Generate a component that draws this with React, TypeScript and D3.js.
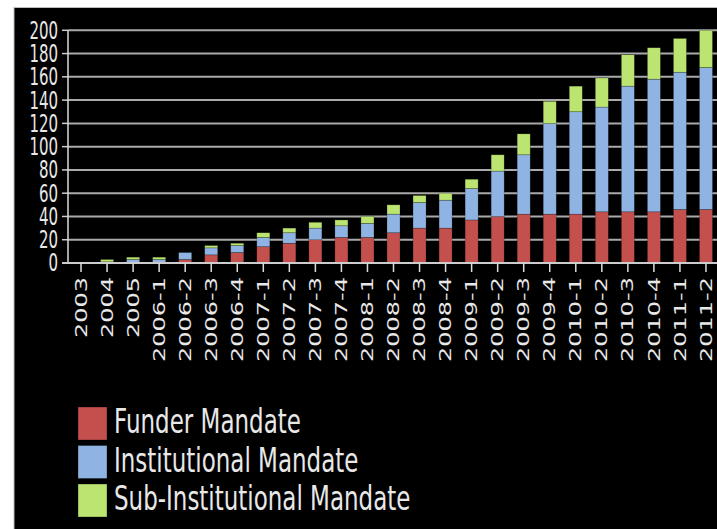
import * as d3 from 'd3';

const categories = [
  '2003', '2004', '2005', '2006-1', '2006-2', '2006-3', '2006-4',
  '2007-1', '2007-2', '2007-3', '2007-4', '2008-1', '2008-2', '2008-3', '2008-4',
  '2009-1', '2009-2', '2009-3', '2009-4', '2010-1', '2010-2', '2010-3', '2010-4',
  '2011-1', '2011-2',
];
const funder = [0, 0, 0, 0, 3, 7, 9, 14, 17, 20, 22, 22, 26, 30, 30, 37, 40, 42, 42, 42, 44, 44, 44, 46, 46];
const institutional = [0, 1, 3, 3, 6, 6, 6, 8, 9, 10, 10, 12, 16, 22, 24, 27, 39, 51, 78, 88, 90, 108, 114, 118, 122];
const subInstitutional = [0, 2, 2, 2, 0, 2, 2, 4, 4, 5, 5, 6, 8, 6, 6, 8, 14, 18, 19, 22, 25, 27, 27, 29, 32];
const yTicks = [0, 20, 40, 60, 80, 100, 120, 140, 160, 180, 200];

const seriesNames = ['Funder Mandate', 'Institutional Mandate', 'Sub-Institutional Mandate'];
const colors = ['#c4504e', '#8fb4e3', '#bce470'];

const W = 717;
const H = 529;
const FONT = 'DejaVu Sans, sans-serif';
const TEXT = '#e8e8e8';

export default function App() {
  const rows = categories.map((c, i) => ({
    cat: c,
    f: funder[i],
    inst: institutional[i],
    sub: subInstitutional[i],
  }));
  const stacked = d3.stack<(typeof rows)[number]>().keys(['f', 'inst', 'sub'])(rows as any);

  const x = d3.scaleBand().domain(categories).range([68, 719]).paddingInner(0.5).paddingOuter(0.25);
  const y = d3.scaleLinear().domain([0, 200]).range([263, 30.3]);

  return (
    <svg width={W} height={H} style={{ position: 'absolute', left: 0, top: 0 }}>
      <rect x={0} y={0} width={W} height={H} fill="#fff" />
      <rect x={14} y={7.5} width={W} height={H} fill="#000" stroke="#bbb" strokeWidth={1} />

      {/* gridlines */}
      {yTicks.map(t => (
        <g key={t}>
          {t > 0 && <line x1={68} x2={W} y1={y(t)} y2={y(t)} stroke="#aaa" strokeWidth={2} />}
          <line x1={62} x2={68} y1={y(t)} y2={y(t)} stroke="#ccc" strokeWidth={1.5} />
          <g transform={`translate(58,${y(t)}) scale(1,1.6)`}>
            <text textAnchor="end" dy="0.35em" fontSize={15} fontFamily={FONT} fill={TEXT}>{t}</text>
          </g>
        </g>
      ))}

      {/* bars */}
      {stacked.map((s, si) => (
        <g key={si} fill={colors[si]}>
          {s.map((d, i) => {
            const h = y(d[0]) - y(d[1]);
            if (h <= 0) return null;
            return (
              <rect key={i} x={x(categories[i])} width={x.bandwidth()} y={y(d[1])} height={h}
                stroke="rgba(0,0,0,0.35)" strokeWidth={0.6} />
            );
          })}
        </g>
      ))}

      {/* axes */}
      <line x1={68} x2={68} y1={y(200)} y2={y(0)} stroke="#ddd" strokeWidth={1.5} />
      <line x1={62} x2={W} y1={y(0)} y2={y(0)} stroke="#ccc" strokeWidth={2} />
      {categories.map(c => {
        const cx = (x(c) ?? 0) + x.bandwidth() / 2;
        return (
          <g key={c}>
            <line x1={cx} x2={cx} y1={y(0)} y2={272} stroke="#ddd" strokeWidth={1.5} />
            <g transform={`translate(${cx},277) scale(1,1.5) rotate(-90)`}>
              <text textAnchor="end" dy="0.35em" fontSize={16} fontFamily={FONT} fill={TEXT}>{c}</text>
            </g>
          </g>
        );
      })}

      {/* legend */}
      {seriesNames.map((n, i) => (
        <g key={n} transform={`translate(78,${407 + i * 38.5})`}>
          <rect x={0} y={0} width={29} height={33} fill={colors[i]} stroke="rgba(0,0,0,0.4)" strokeWidth={0.8} />
          <g transform={`translate(36,26) scale(1,1.5)`}>
            <text fontSize={23} fontFamily={FONT} fill={TEXT}>{n}</text>
          </g>
        </g>
      ))}
    </svg>
  );
}
